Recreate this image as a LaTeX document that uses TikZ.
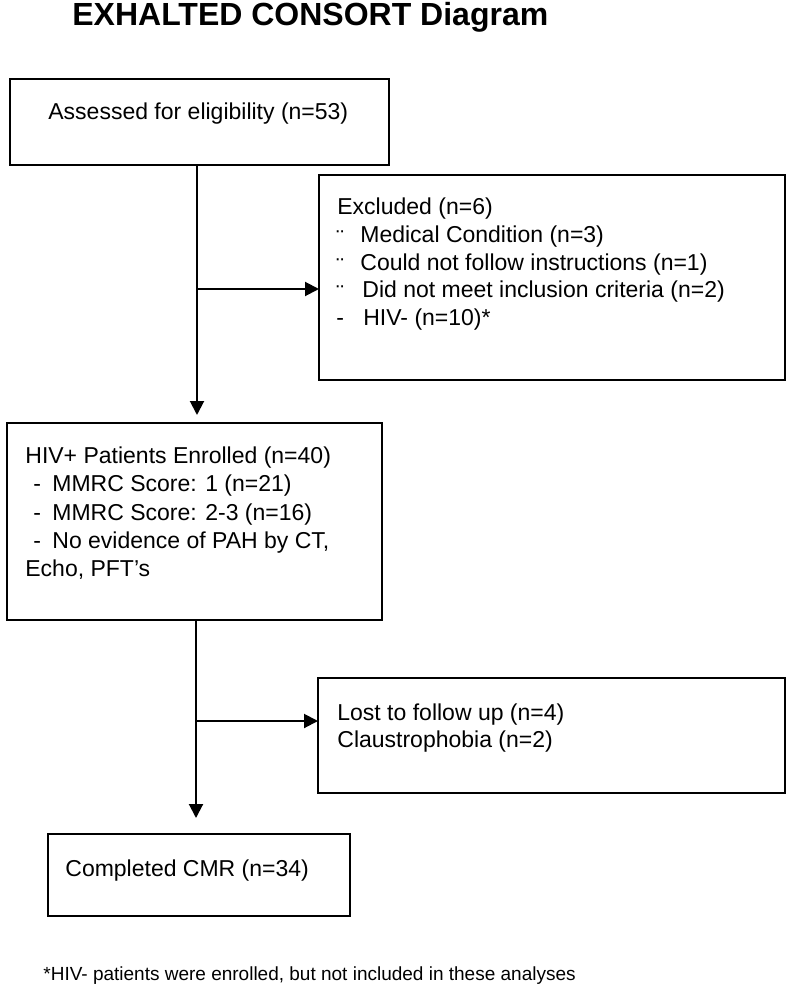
\documentclass[tikz,border=0pt]{standalone}
\usepackage{fontspec}
\setmainfont{Liberation Sans}
\usetikzlibrary{arrows.meta}
\begin{document}
\begin{tikzpicture}[x=0.5pt, y=-0.5pt]
      \tikzstyle{STY1} = [draw, rectangle, line width=1pt, inner sep=0pt, outer sep=0pt]
      \tikzstyle{STY2} = [-{Triangle[length=7pt, width=7pt]}, line width=1pt]
      \tikzstyle{STY3} = [inner sep=0pt, anchor=base west, font=\fontsize{11.5}{14}\selectfont]

      \useasboundingbox (0, 0) rectangle (787, 988);

      %%%%% VERTEX

      \node[inner sep=0pt, anchor=base west, font=\fontsize{16}{18}\selectfont\bfseries](v0) at (72, 26) {EXHALTED CONSORT Diagram};

      \node[STY1, minimum width=189.5pt, minimum height=43pt](v1) at (199.5, 122) {};
      \node[STY1, minimum width=233pt, minimum height=102.5pt](v2) at (552, 277.5) {};
      \node[STY1, minimum width=187.5pt, minimum height=98.5pt](v3) at (194.5, 521.5) {};
      \node[STY1, minimum width=233.5pt, minimum height=57.5pt](v4) at (551.5, 735.5) {};
      \node[STY1, minimum width=151pt, minimum height=41pt](v5) at (199, 875) {};

      \node[STY3](l1) at (48, 120) {Assessed for eligibility (n=53)};

      \node[STY3](l2) at (337, 215) {Excluded (n=6)};
      \node[STY3](l3) at (336, 243) {\makebox[12pt][l]{\raisebox{-2pt}{¨}}Medical Condition (n=3)};
      \node[STY3](l4) at (336, 271) {\makebox[12pt][l]{\raisebox{-2pt}{¨}}Could not follow instructions (n=1)};
      \node[STY3](l5) at (336, 298) {\makebox[13pt][l]{\raisebox{-2pt}{¨}}Did not meet inclusion criteria (n=2)};
      \node[STY3](l6) at (336, 326) {\makebox[13.5pt][l]{-}HIV- (n=10)*};

      \node[STY3](l7) at (25, 463) {HIV+ Patients Enrolled (n=40)};
      \node[STY3](l8) at (25, 491) {\makebox[13.5pt][l]{\hspace*{4pt}-}MMRC Score: 1 (n=21)};
      \node[STY3](l9) at (25, 520) {\makebox[13.5pt][l]{\hspace*{4pt}-}MMRC Score: 2-3 (n=16)};
      \node[STY3](l10) at (25, 548) {\makebox[13.5pt][l]{\hspace*{4pt}-}No evidence of PAH by CT,};
      \node[STY3](l11) at (25, 576) {Echo, PFT’s};

      \node[STY3](l12) at (337, 720) {Lost to follow up (n=4)};
      \node[STY3](l13) at (337, 747) {Claustrophobia (n=2)};

      \node[STY3](l14) at (65, 876) {Completed CMR (n=34)};

      \node[inner sep=0pt, anchor=base west, font=\fontsize{9.5}{12}\selectfont](l15) at (43, 980) {*HIV- patients were enrolled, but not included in these analyses};

      %%%%% EDGES

      \coordinate (j1) at (197, 289);
      \coordinate (j2) at (196, 721);

      \draw[line width=1pt]  (v1.south -| j1) -- (j1);
      \draw[STY2]  (j1) -- (j1 -| v2.west);
      \draw[STY2, shorten >=4pt]  (j1) -- (j1 |- v3.north);

      \draw[line width=1pt]  (v3.south -| j2) -- (j2);
      \draw[STY2]  (j2) -- (j2 -| v4.west);
      \draw[STY2, shorten >=8pt]  (j2) -- (j2 |- v5.north);
    \end{tikzpicture}
\end{document}
